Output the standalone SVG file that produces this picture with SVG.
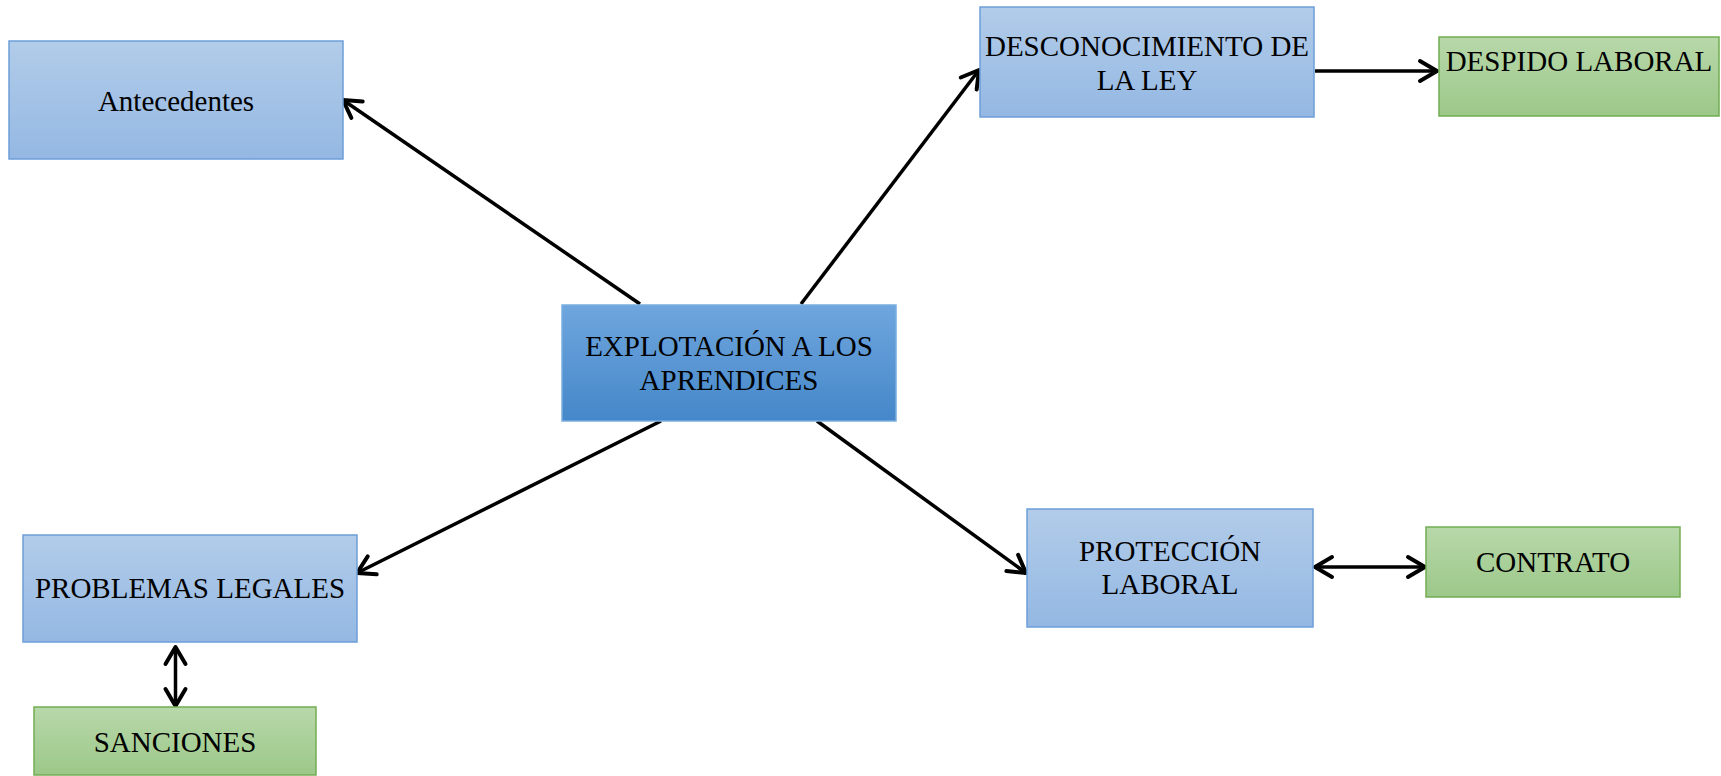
<svg xmlns="http://www.w3.org/2000/svg" width="1721" height="776" viewBox="0 0 1721 776">
<defs>
<linearGradient id="gBlue" x1="0" y1="0" x2="0" y2="1"><stop offset="0" stop-color="#b2cce9"/><stop offset="1" stop-color="#94b8e3"/></linearGradient>
<linearGradient id="gMain" x1="0" y1="0" x2="0" y2="1"><stop offset="0" stop-color="#6fa6de"/><stop offset="1" stop-color="#4587c9"/></linearGradient>
<linearGradient id="gGreen" x1="0" y1="0" x2="0" y2="1"><stop offset="0" stop-color="#b8d8aa"/><stop offset="1" stop-color="#9cc889"/></linearGradient>
<marker id="arr" markerUnits="userSpaceOnUse" markerWidth="40" markerHeight="40" viewBox="-30 -20 40 40" refX="0" refY="0" orient="auto-start-reverse">
<path d="M-17,-10 L0,0 L-17,10" fill="none" stroke="#000" stroke-width="4" stroke-linecap="round" stroke-linejoin="round"/>
</marker>
<style>
.blue{fill:url(#gBlue);stroke:#6c9fd8;stroke-width:1.5}
.main{fill:url(#gMain);stroke:#7aaede;stroke-width:1.5}
.green{fill:url(#gGreen);stroke:#72ad52;stroke-width:1.5}
text{font-family:"Liberation Serif","Times New Roman",serif;font-size:29px;fill:#000;text-anchor:middle}
.c line{stroke:#000;stroke-width:3.5;fill:none}
.e{marker-end:url(#arr)}
.b{marker-start:url(#arr);marker-end:url(#arr)}
</style>
</defs>
<rect width="1721" height="776" fill="#fff"/>
<g class="c" id="connectors">
<line class="e" x1="640" y1="304" x2="343" y2="100"/>
<line class="e" x1="801" y1="304" x2="979" y2="70"/>
<line class="e" x1="661" y1="421" x2="357" y2="573"/>
<line class="e" x1="817" y1="421" x2="1026" y2="573"/>
<line class="e" x1="1315" y1="71" x2="1437" y2="71"/>
<line class="b" x1="1315" y1="567" x2="1425" y2="567"/>
<line class="b" x1="175.5" y1="647" x2="175.5" y2="706"/>
</g>
<g id="antecedentes"><rect class="blue" x="9" y="41" width="334" height="118"/><text x="176" y="111">Antecedentes</text></g>
<g id="explotacion"><rect class="main" x="562" y="305" width="334" height="116"/><text x="729" y="356">EXPLOTACIÓN A LOS</text><text x="729" y="390">APRENDICES</text></g>
<g id="desconocimiento"><rect class="blue" x="980" y="7" width="334" height="110"/><text x="1147" y="56">DESCONOCIMIENTO DE</text><text x="1147" y="90">LA LEY</text></g>
<g id="despido"><rect class="green" x="1439" y="37" width="280" height="79"/><text x="1579" y="71">DESPIDO LABORAL</text></g>
<g id="problemas"><rect class="blue" x="23" y="535" width="334" height="107"/><text x="190" y="598">PROBLEMAS LEGALES</text></g>
<g id="sanciones"><rect class="green" x="34" y="707" width="282" height="68"/><text x="175" y="752">SANCIONES</text></g>
<g id="proteccion"><rect class="blue" x="1027" y="509" width="286" height="118"/><text x="1170" y="561">PROTECCIÓN</text><text x="1170" y="594">LABORAL</text></g>
<g id="contrato"><rect class="green" x="1426" y="527" width="254" height="70"/><text x="1553" y="572">CONTRATO</text></g>
</svg>
